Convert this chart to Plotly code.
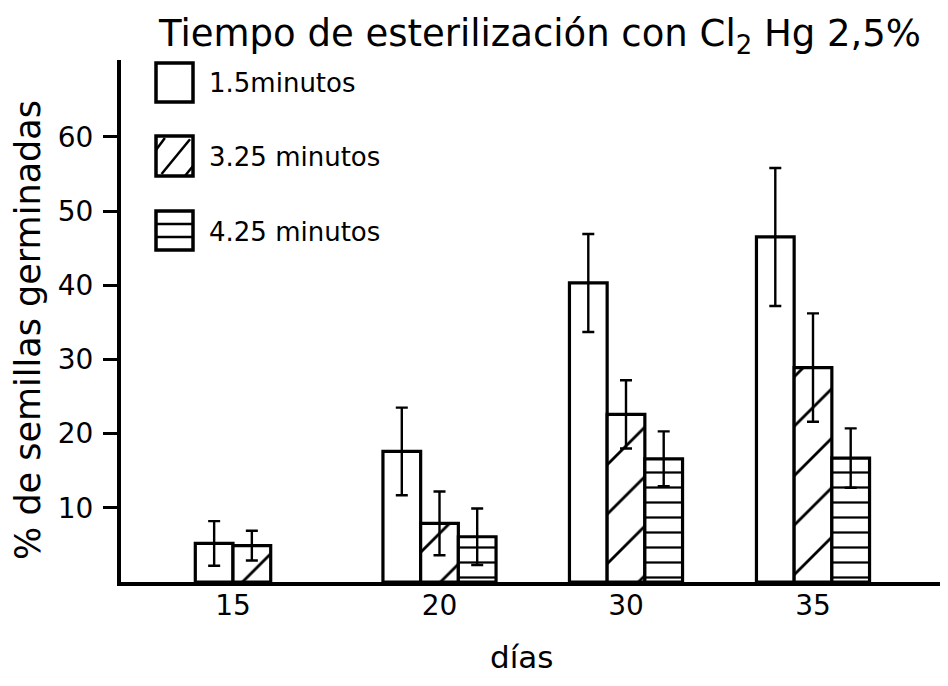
import plotly.graph_objects as go

# ---- data -------------------------------------------------------------
days = ["15", "20", "30", "35"]
series_names = ["1.5minutos", "3.25 minutos", "4.25 minutos"]

germ_1_5 = [5.2, 17.6, 40.3, 46.5]
err_1_5 = [3.0, 5.9, 6.6, 9.3]

germ_3_25 = [4.9, 7.9, 22.6, 28.9]
err_3_25 = [2.0, 4.3, 4.6, 7.3]

germ_4_25 = [None, 6.1, 16.6, 16.7]
err_4_25 = [None, 3.8, 3.7, 4.0]

y_ticks = [10, 20, 30, 40, 50, 60]

# ---- layout constants -------------------------------------------------
W, H = 948, 686
ML, MR, MT, MB = 121, 8, 60, 104
plot_w = W - ML - MR
plot_h = H - MT - MB
y_top = plot_h / 7.42          # 7.42 px per percentage point
group_x = [112, 318.5, 505, 692]   # group centres (x axis in px units)
bar_w = 37.7
FONT = "DejaVu Sans"

values = [germ_1_5, germ_3_25, germ_4_25]
errors = [err_1_5, err_3_25, err_4_25]
patterns = [
    dict(shape=""),
    dict(shape="/", fgcolor="black", fgopacity=1, bgcolor="white", size=35, solidity=0.08,
         fillmode="overlay"),
    dict(shape="-", fgcolor="black", fgopacity=1, bgcolor="white", size=15, solidity=0.15,
         fillmode="overlay"),
]

# bar offsets: bars of each day are centred on the day's position,
# only counting the series that were measured on that day
offsets = [[None] * len(days) for _ in values]
for i in range(len(days)):
    present = [k for k in range(len(values)) if values[k][i] is not None]
    start = -len(present) * bar_w / 2
    for j, k in enumerate(present):
        offsets[k][i] = start + j * bar_w

fig = go.Figure()
for k, name in enumerate(series_names):
    fig.add_trace(go.Bar(
        x=group_x,
        y=values[k],
        name=name,
        width=bar_w,
        offset=[o if o is not None else 0 for o in offsets[k]],
        marker=dict(color="white", line=dict(color="black", width=3.2), pattern=patterns[k]),
        error_y=dict(type="data", array=errors[k], color="black", thickness=2.4, width=6),
        showlegend=False,
    ))


def px(x, y):
    """pixel position in the page -> paper coordinates"""
    return (x - ML) / plot_w, (H - MB - y) / plot_h


shapes = []
annotations = []

# ---- hand-drawn legend -----------------------------------------------
box_x0, box_x1 = 156, 193
box_rows = [(63, 102), (136, 176), (211, 250)]
label_y = [83, 157, 232]
for k, (y0, y1) in enumerate(box_rows):
    a = px(box_x0, y1)
    b = px(box_x1, y0)
    shapes.append(dict(type="rect", xref="paper", yref="paper", x0=a[0], y0=a[1], x1=b[0], y1=b[1],
                       line=dict(color="black", width=3.5), fillcolor="white"))
    bw, bh = box_x1 - box_x0, y1 - y0
    segs = []
    if k == 1:
        segs = [((0.15, 0.95), (0.92, 0.08)), ((0.0, 0.35), (0.24, 0.05)), ((0.78, 1.0), (1.0, 0.75))]
    elif k == 2:
        segs = [((0.0, 1 / 3), (1.0, 1 / 3)), ((0.0, 2 / 3), (1.0, 2 / 3))]
    for (fx0, fy0), (fx1, fy1) in segs:
        p0 = px(box_x0 + fx0 * bw, y0 + fy0 * bh)
        p1 = px(box_x0 + fx1 * bw, y0 + fy1 * bh)
        shapes.append(dict(type="line", xref="paper", yref="paper", x0=p0[0], y0=p0[1], x1=p1[0], y1=p1[1],
                           line=dict(color="black", width=2.5)))
    t = px(207, label_y[k])
    annotations.append(dict(xref="paper", yref="paper", x=t[0], y=t[1], text=series_names[k],
                            showarrow=False, xanchor="left", yanchor="middle",
                            font=dict(family=FONT, size=26, color="black")))

# ---- titles ------------------------------------------------------------
t = px(539, 36)
annotations.append(dict(xref="paper", yref="paper", x=t[0], y=t[1],
                        text="Tiempo de esterilización con Cl<sub>2</sub> Hg 2,5%",
                        showarrow=False, xanchor="center", yanchor="middle",
                        font=dict(family=FONT, size=37, color="black")))
t = px(28, 330)
annotations.append(dict(xref="paper", yref="paper", x=t[0], y=t[1], text="% de semillas germinadas",
                        textangle=-90, showarrow=False, xanchor="center", yanchor="middle",
                        font=dict(family=FONT, size=35, color="black")))
t = px(521, 657)
annotations.append(dict(xref="paper", yref="paper", x=t[0], y=t[1], text="días",
                        showarrow=False, xanchor="center", yanchor="middle",
                        font=dict(family=FONT, size=31, color="black")))

fig.update_layout(
    width=W, height=H,
    margin=dict(l=ML, r=MR, t=MT, b=MB, pad=0),
    paper_bgcolor="white", plot_bgcolor="white",
    shapes=shapes, annotations=annotations,
    xaxis=dict(range=[0, plot_w], showline=True, linecolor="black", linewidth=4,
               ticks="", tickvals=group_x, ticktext=days, showgrid=False, zeroline=False,
               tickfont=dict(family=FONT, size=28, color="black"), ticklabelstandoff=-5),
    yaxis=dict(range=[0, y_top], showline=True, linecolor="black", linewidth=4,
               ticks="outside", ticklen=14, tickwidth=2.5, tickcolor="black",
               tickvals=y_ticks, showgrid=False, zeroline=False,
               tickfont=dict(family=FONT, size=28, color="black"), ticklabelstandoff=4),
)

fig.write_html("out.html")
